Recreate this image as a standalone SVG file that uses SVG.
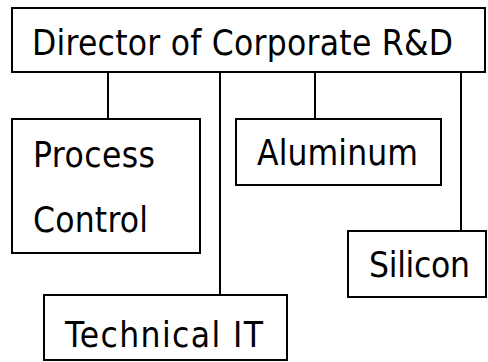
<svg xmlns="http://www.w3.org/2000/svg" width="488" height="362" viewBox="0 0 488 362">
  <style>
    .box { fill: #ffffff; stroke: #000000; stroke-width: 2; }
    .lbl { font-family: "DejaVu Sans Condensed", "DejaVu Sans", Verdana, sans-serif; font-stretch: condensed; font-size: 35px; fill: #000000; }
    .wire { stroke: #000000; stroke-width: 2; fill: none; }
  </style>
  <rect width="488" height="362" fill="#ffffff"/>

  <!-- reporting lines -->
  <g id="connectors">
    <line class="wire" x1="108" y1="72" x2="108" y2="119"/>
    <line class="wire" x1="220" y1="72" x2="220" y2="295"/>
    <line class="wire" x1="315" y1="72" x2="315" y2="119"/>
    <line class="wire" x1="461" y1="72" x2="461" y2="231"/>
  </g>

  <g id="director">
    <rect class="box" x="12" y="8" width="473" height="64"/>
    <text class="lbl" x="32" y="55" textLength="421" lengthAdjust="spacing">Director of Corporate R&amp;D</text>
  </g>

  <g id="process-control">
    <rect class="box" x="12" y="119" width="188" height="134"/>
    <text class="lbl" x="33" y="167" textLength="122" lengthAdjust="spacing">Process</text>
    <text class="lbl" x="33" y="232" textLength="115" lengthAdjust="spacing">Control</text>
  </g>

  <g id="aluminum">
    <rect class="box" x="236" y="119" width="205" height="66"/>
    <text class="lbl" x="257" y="165" textLength="161" lengthAdjust="spacing">Aluminum</text>
  </g>

  <g id="silicon">
    <rect class="box" x="348" y="231" width="138" height="66"/>
    <text class="lbl" x="369" y="277" textLength="101" lengthAdjust="spacing">Silicon</text>
  </g>

  <g id="technical-it">
    <rect class="box" x="44" y="295" width="243" height="65"/>
    <text class="lbl" x="65" y="347" textLength="198" lengthAdjust="spacing">Technical IT</text>
  </g>
</svg>
